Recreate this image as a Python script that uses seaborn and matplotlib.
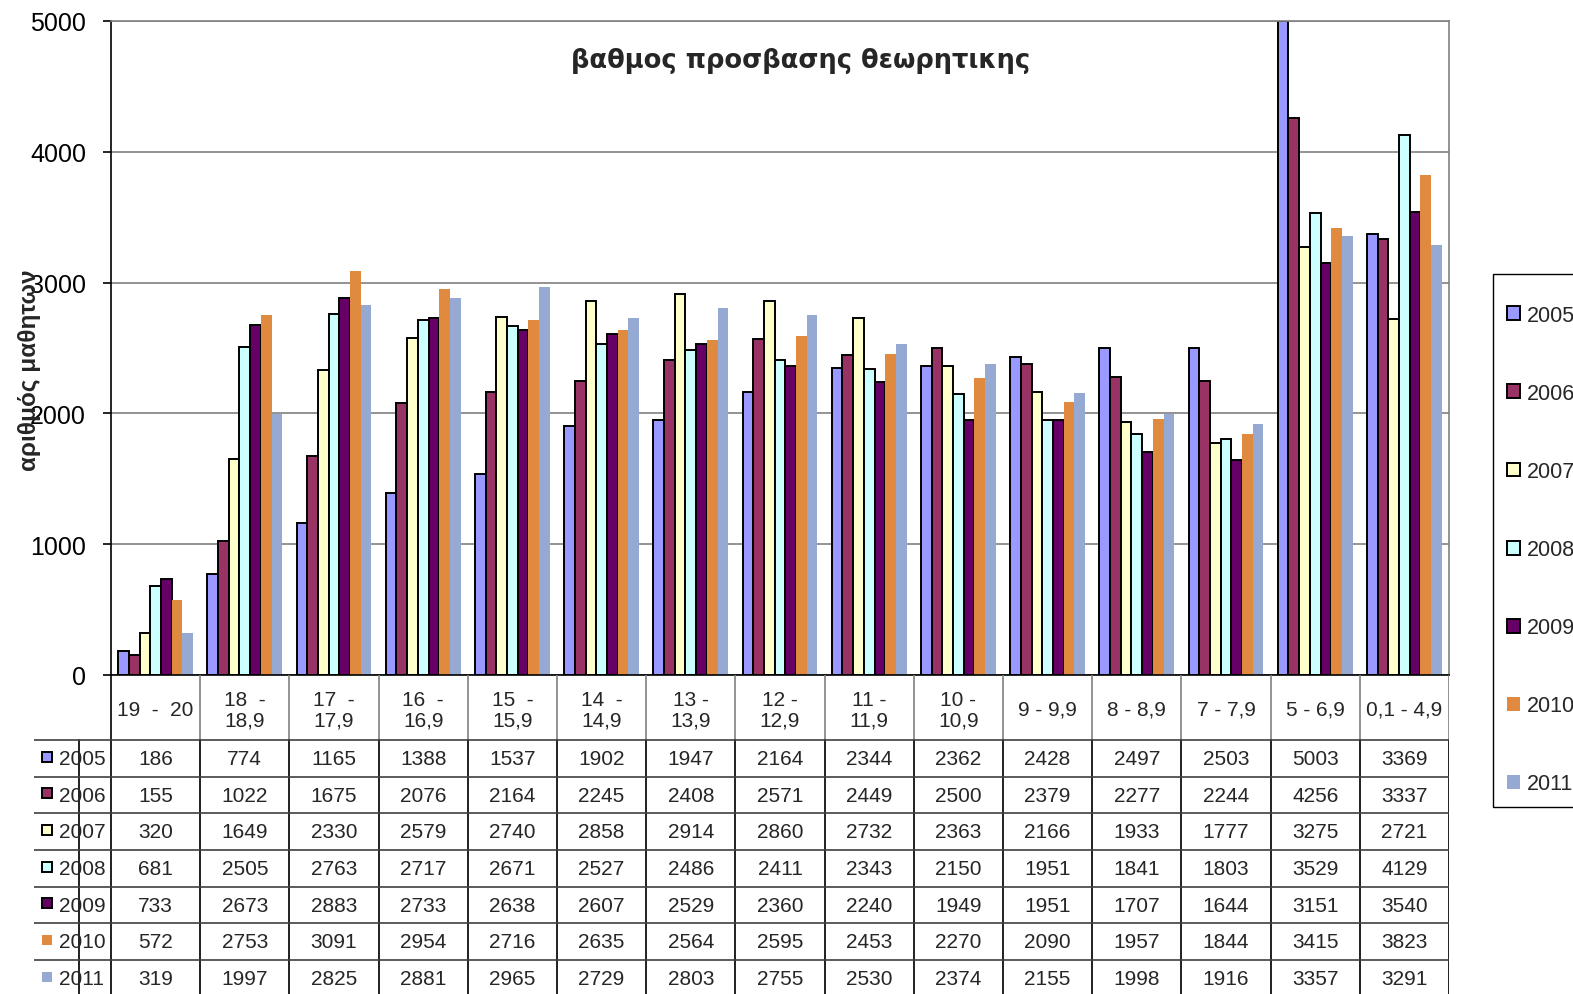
import pandas as pd
import seaborn as sns
import matplotlib.pyplot as plt
from matplotlib.patches import Rectangle

# grade ranges (table header labels, line breaks as in the chart)
categories = ["19  -  20", "18  -\n18,9", "17  -\n17,9", "16  -\n16,9", "15  -\n15,9",
              "14  -\n14,9", "13 -\n13,9", "12 -\n12,9", "11 -\n11,9", "10 -\n10,9",
              "9 - 9,9", "8 - 8,9", "7 - 7,9", "5 - 6,9", "0,1 - 4,9"]
years = ["2005", "2006", "2007", "2008", "2009", "2010", "2011"]

v2005 = [186, 774, 1165, 1388, 1537, 1902, 1947, 2164, 2344, 2362, 2428, 2497, 2503, 5003, 3369]
v2006 = [155, 1022, 1675, 2076, 2164, 2245, 2408, 2571, 2449, 2500, 2379, 2277, 2244, 4256, 3337]
v2007 = [320, 1649, 2330, 2579, 2740, 2858, 2914, 2860, 2732, 2363, 2166, 1933, 1777, 3275, 2721]
v2008 = [681, 2505, 2763, 2717, 2671, 2527, 2486, 2411, 2343, 2150, 1951, 1841, 1803, 3529, 4129]
v2009 = [733, 2673, 2883, 2733, 2638, 2607, 2529, 2360, 2240, 1949, 1951, 1707, 1644, 3151, 3540]
v2010 = [572, 2753, 3091, 2954, 2716, 2635, 2564, 2595, 2453, 2270, 2090, 1957, 1844, 3415, 3823]
v2011 = [319, 1997, 2825, 2881, 2965, 2729, 2803, 2755, 2530, 2374, 2155, 1998, 1916, 3357, 3291]
series = [v2005, v2006, v2007, v2008, v2009, v2010, v2011]

colors = ["#9999FF", "#993366", "#FFFFCC", "#CCFFFF", "#660066", "#DF8A3E", "#95A9D3"]
outlined = [True, True, True, True, True, False, False]

rows = []
for y, vals in zip(years, series):
    for c, v in zip(categories, vals):
        rows.append({"range": c, "year": y, "count": v})
df = pd.DataFrame(rows)

sns.set_theme(style="white")
plt.rcParams["font.family"] = ["Liberation Sans", "DejaVu Sans"]

W, H = 1573, 995
fig = plt.figure(figsize=(W / 100, H / 100), dpi=100)
ax = fig.add_axes([111 / W, 1 - 676 / H, 1338 / W, 654 / H])

sns.barplot(data=df, x="range", y="count", hue="year", order=categories, hue_order=years,
            palette=colors, saturation=1, width=0.84, legend=False, ax=ax)

for i, cont in enumerate(ax.containers):
    for p in cont:
        if outlined[i]:
            p.set_edgecolor("black")
            p.set_linewidth(1.4)
        else:
            p.set_linewidth(0)

ax.set_xlim(-0.5, len(categories) - 0.5)
ax.set_ylim(0, 5000)
ax.set_yticks(range(0, 5001, 1000))
ax.yaxis.grid(True, color="#808080", lw=1.2)
ax.set_axisbelow(True)
ax.tick_params(axis="y", left=True, length=6, width=1.2, pad=12, labelsize=18, colors="black")
ax.set_xticks([])
ax.set_xlabel("")
ax.set_ylabel("αριθμός μαθητων", fontsize=17.5, fontweight="bold")
ax.yaxis.set_label_coords(-0.052, 0.468)
for s in ["left", "bottom"]:
    ax.spines[s].set_color("black")
    ax.spines[s].set_linewidth(1.2)
for s in ["top", "right"]:
    ax.spines[s].set_color("#808080")
    ax.spines[s].set_linewidth(1.2)

ax.text(0.515, 0.94, "βαθμος προσβασης θεωρητικης", transform=ax.transAxes,
        ha="center", va="center", fontsize=18.5, fontweight="bold", family="DejaVu Sans")

# legend, frame drawn separately (it runs off the right edge like the original)
fig.patches.append(Rectangle((1493 / W, 1 - 808 / H), 200 / W, 533 / H, transform=fig.transFigure,
                             facecolor="white", edgecolor="black", lw=1, zorder=-1))
leg = ax.legend(ax.containers, years, loc="upper left", bbox_to_anchor=(1507 / W, 1 - 306 / H),
                bbox_transform=fig.transFigure, frameon=False, fontsize=15.5,
                handlelength=0.62, handleheight=0.62, handletextpad=0.3,
                labelspacing=2.65, borderpad=0, borderaxespad=0)

# data table under the plot
ncat = len(categories)
row_h = 36.67
label_w = 77 / 89.2
head_h = 65 / row_h
tab = fig.add_axes([34 / W, 0, 1415 / W, 319 / H])
tab.set_xlim(-0.5 - label_w, ncat - 0.5)
tab.set_ylim(319 / row_h, 0)
tab.axis("off")

for k in range(ncat + 1):
    tab.plot([k - 0.5, k - 0.5], [0, head_h], color="black" if k == 0 else "#808080", lw=1.2)
for k in list(range(ncat + 1)) + [0.5 - label_w]:
    tab.plot([k - 0.5, k - 0.5], [head_h, head_h + len(years)], color="#202020", lw=1.4)
for r in range(len(years) + 1):
    tab.plot([-0.5 - label_w, ncat - 0.5], [head_h + r, head_h + r], color="#404040", lw=1.2)

for j, c in enumerate(categories):
    tab.text(j, head_h / 2 + 0.05, c, ha="center", va="center", fontsize=15, linespacing=1.1)

for r, (y, vals) in enumerate(zip(years, series)):
    yc = head_h + r + 0.5
    tab.plot(-0.5 - label_w + 0.15, yc - 0.05, marker="s", ms=7.5, mfc=colors[r],
             mec="black" if outlined[r] else colors[r], mew=1.4 if outlined[r] else 0)
    tab.text(-0.5 - label_w + 0.28, yc, y, ha="left", va="center", fontsize=15)
    for j, v in enumerate(vals):
        tab.text(j, yc, str(v), ha="center", va="center", fontsize=15)

fig.savefig("out.png", dpi=100)
